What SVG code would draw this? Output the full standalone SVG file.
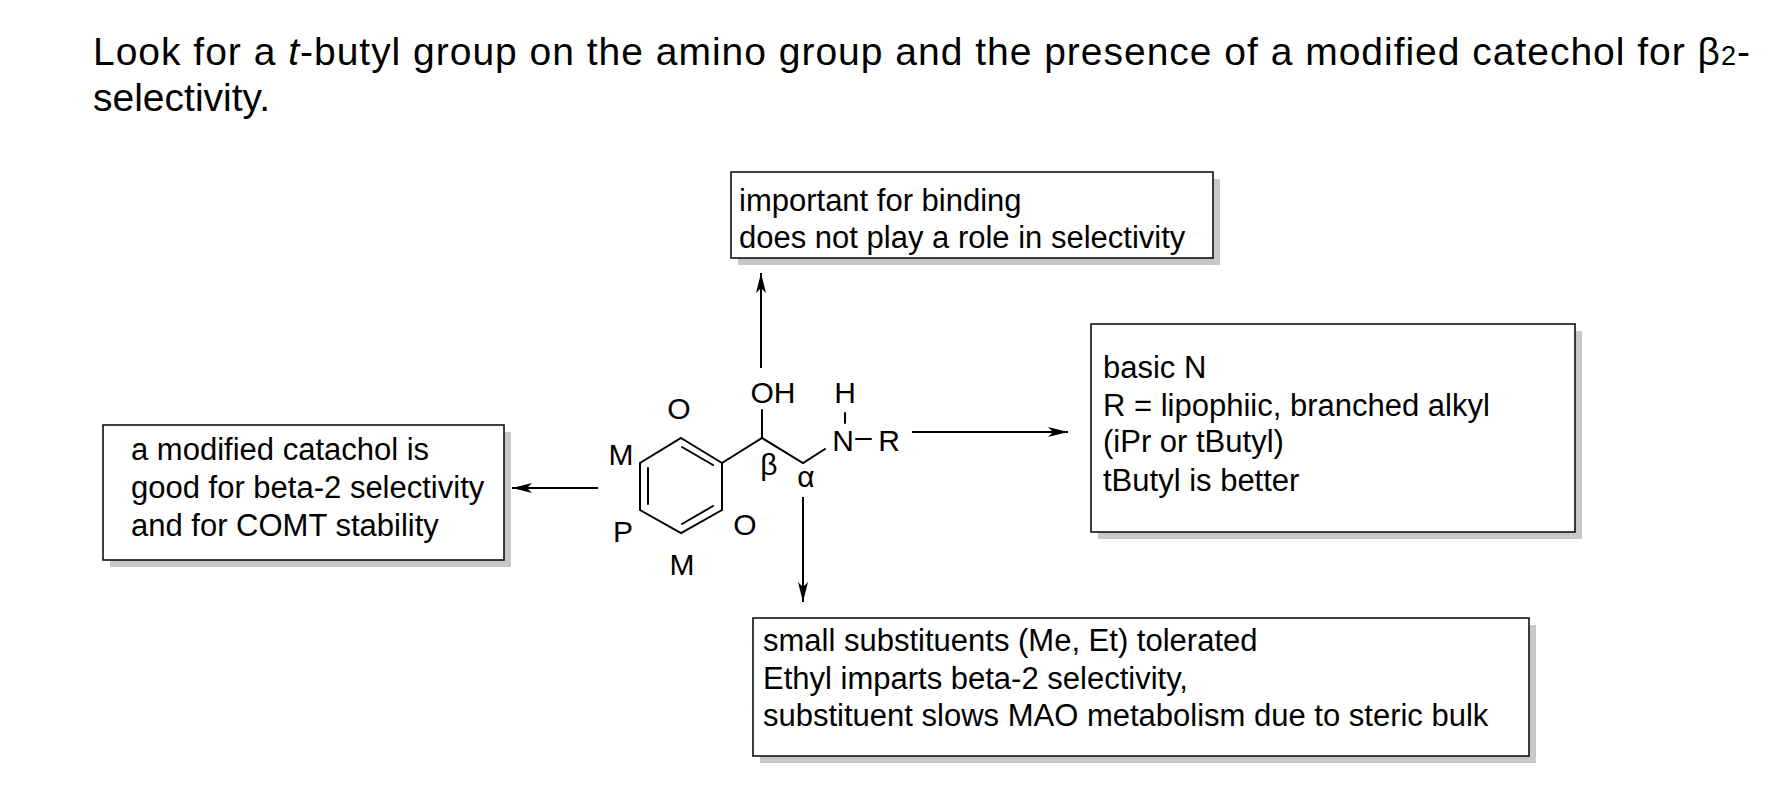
<svg xmlns="http://www.w3.org/2000/svg" width="1782" height="800" viewBox="0 0 1782 800">
<defs>
<style>
text{font-family:"Liberation Sans",Arial,sans-serif;fill:#000}
.t{font-size:39px}
.b{font-size:31px}
.a{font-size:30px;text-anchor:middle}
.box{fill:#fff;stroke:#000;stroke-width:1.5}
.sh{fill:#c8c8c8}
.bond{stroke:#000;stroke-width:2;fill:none;stroke-linecap:round}
.arr{stroke:#000;stroke-width:2;fill:none;marker-end:url(#ah)}
</style>
<marker id="ah" viewBox="0 0 20 10" refX="20" refY="5" markerWidth="20" markerHeight="10" markerUnits="userSpaceOnUse" orient="auto"><path d="M0,0 L20,5 L0,10 L5,5 z" fill="#000"/></marker>
</defs>
<rect width="1782" height="800" fill="#fff"/>
<text class="t" x="93" y="65" textLength="1657" lengthAdjust="spacing">Look for a <tspan font-style="italic">t</tspan>-butyl group on the amino group and the presence of a modified catechol for β<tspan font-size="27">2</tspan>-</text>
<text class="t" x="93" y="111">selectivity.</text>

<g id="box-top">
<rect class="sh" x="738" y="179" width="482" height="86"/>
<rect class="box" x="731" y="172" width="482" height="86"/>
<text class="b" x="739" y="211">important for binding</text>
<text class="b" x="739" y="248">does not play a role in selectivity</text>
</g>
<g id="box-right">
<rect class="sh" x="1098" y="331" width="484" height="208"/>
<rect class="box" x="1091" y="324" width="484" height="208"/>
<text class="b" x="1103" y="378">basic N</text>
<text class="b" x="1103" y="416">R = lipophiic, branched alkyl</text>
<text class="b" x="1103" y="452">(iPr or tButyl)</text>
<text class="b" x="1103" y="491">tButyl is better</text>
</g>
<g id="box-left">
<rect class="sh" x="110" y="432" width="401" height="135"/>
<rect class="box" x="103" y="425" width="401" height="135"/>
<text class="b" x="131" y="460">a modified catachol is</text>
<text class="b" x="131" y="498">good for beta-2 selectivity</text>
<text class="b" x="131" y="536">and for COMT stability</text>
</g>
<g id="box-bottom">
<rect class="sh" x="760" y="625" width="776" height="138"/>
<rect class="box" x="753" y="618" width="776" height="138"/>
<text class="b" x="763" y="651">small substituents (Me, Et) tolerated</text>
<text class="b" x="763" y="689">Ethyl imparts beta-2 selectivity,</text>
<text class="b" x="763" y="726">substituent slows MAO metabolism due to steric bulk</text>
</g>

<g id="molecule">
<path class="bond" d="M681,438 L722,463 L722,510 L681,533 L640,510 L640,463 Z"/>
<path class="bond" d="M648,468 L648,504 M682,447 L713,465 M682,524 L713,506"/>
<path class="bond" d="M722,463 L762,438 L803,463 L825,449 M762,438 L762,410 M845,413 L845,423 M856,439 L871,439"/>
<text class="a" x="679" y="419">O</text>
<text class="a" x="621" y="465">M</text>
<text class="a" x="623" y="542">P</text>
<text class="a" x="745" y="535">O</text>
<text class="a" x="682" y="575">M</text>
<text class="a" x="773" y="403">OH</text>
<text class="a" x="845" y="403">H</text>
<text class="a" x="843" y="451">N</text>
<text class="a" x="889" y="451">R</text>
<text class="a" x="769" y="475">β</text>
<text class="a" x="806" y="487">α</text>
</g>

<g id="connectors">
<line class="arr" x1="761" y1="368" x2="761" y2="273"/>
<line class="arr" x1="598" y1="488" x2="512" y2="488"/>
<line class="arr" x1="912" y1="432" x2="1068" y2="432"/>
<line class="arr" x1="803" y1="497" x2="803" y2="602"/>
</g>
</svg>
